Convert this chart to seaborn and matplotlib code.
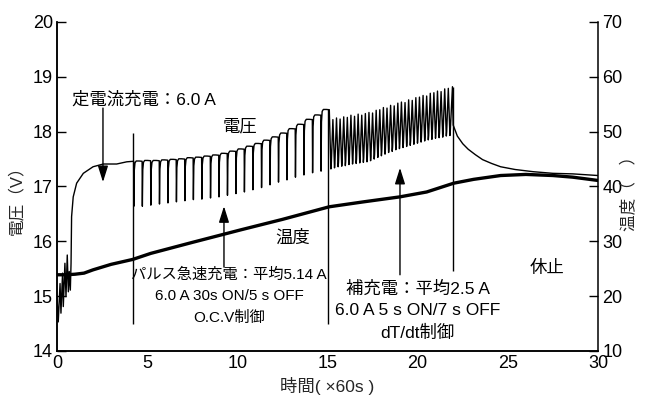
import numpy as np
import pandas as pd
import seaborn as sns
import matplotlib.pyplot as plt

sns.set_style("white")
plt.rcParams["font.family"] = ["Liberation Sans", "Noto Sans CJK JP", "DejaVu Sans"]

# ---- constant-current phase (minutes, volts) ----
cc_time = [0.00, 0.02, 0.07, 0.17, 0.22, 0.31, 0.35, 0.44, 0.50, 0.57, 0.63,
           0.68, 0.74, 0.78, 0.81, 0.90, 1.09, 1.46, 2.00, 2.57, 3.31, 3.87]
cc_volt = [15.00, 14.88, 14.53, 15.23, 14.69, 15.42, 14.81, 15.60, 14.99, 15.75,
           15.08, 15.45, 15.11, 15.60, 16.45, 16.81, 17.06, 17.24, 17.36, 17.41,
           17.41, 17.45]

# ---- rapid pulse charge: drop times, plateau level before drop, trough ----
pulse_time = [4.25, 4.72, 5.19, 5.67, 6.14, 6.61, 7.08, 7.55, 8.02, 8.50, 8.97,
              9.44, 9.91, 10.38, 10.85, 11.33, 11.80, 12.27, 12.74, 13.21, 13.68,
              14.16, 14.63]
pulse_peak = [17.46, 17.46, 17.47, 17.47, 17.48, 17.49, 17.50, 17.52, 17.53,
              17.55, 17.57, 17.60, 17.64, 17.68, 17.73, 17.78, 17.84, 17.90,
              17.97, 18.05, 18.13, 18.22, 18.30]
pulse_trough = [16.64, 16.64, 16.66, 16.68, 16.70, 16.72, 16.74, 16.76, 16.77,
                16.79, 16.81, 16.84, 16.87, 16.90, 16.94, 16.98, 17.03, 17.08,
                17.12, 17.17, 17.21, 17.25, 17.28]

# ---- supplementary charge (5 s ON / 7 s OFF) ----
sup_time = [15.10, 15.30, 15.50, 15.70, 15.90, 16.10, 16.30, 16.50, 16.70,
            16.90, 17.10, 17.30, 17.50, 17.70, 17.90, 18.10, 18.30, 18.50,
            18.70, 18.90, 19.10, 19.30, 19.50, 19.70, 19.90, 20.10, 20.30,
            20.50, 20.70, 20.90, 21.10, 21.30, 21.50, 21.70, 21.90]
sup_peak = [18.40, 18.22, 18.25, 18.23, 18.27, 18.26, 18.30, 18.28, 18.32,
            18.30, 18.33, 18.35, 18.34, 18.39, 18.40, 18.44, 18.43, 18.48,
            18.47, 18.52, 18.54, 18.53, 18.58, 18.57, 18.62, 18.63, 18.66,
            18.65, 18.70, 18.71, 18.74, 18.73, 18.78, 18.79, 18.82]
sup_trough = [17.32, 17.34, 17.36, 17.37, 17.38, 17.40, 17.41, 17.42, 17.43,
              17.44, 17.45, 17.47, 17.50, 17.53, 17.56, 17.59, 17.62, 17.64,
              17.67, 17.69, 17.71, 17.73, 17.75, 17.77, 17.79, 17.81, 17.83,
              17.85, 17.86, 17.88, 17.89, 17.90, 17.92, 17.93, 17.94]

# ---- rest phase ----
rest_time = [21.93, 21.97, 22.2, 22.5, 22.8, 23.2, 23.6, 24.1, 24.6, 25.4,
             26.4, 27.5, 28.6, 30.0]
rest_volt = [18.82, 18.12, 17.92, 17.78, 17.68, 17.58, 17.49, 17.42, 17.36,
             17.31, 17.27, 17.24, 17.23, 17.20]

# ---- cell temperature (minutes, deg C) ----
temp_time = [0.0, 0.5, 1.0, 1.5, 2.0, 3.0, 4.2, 5.2, 7.5, 10.2, 12.5, 15.1,
             17.0, 19.0, 20.5, 22.0, 23.1, 24.6, 26.0, 27.5, 28.6, 30.0]
temp_val = [23.9, 23.9, 24.0, 24.2, 24.8, 25.8, 26.7, 27.8, 29.8, 32.1, 34.0,
            36.3, 37.2, 38.1, 39.0, 40.6, 41.3, 42.0, 42.2, 42.0, 41.7, 41.1]

# phase guide lines
guide_x = [4.2, 15.05, 21.95]
guide_lo = [14.5, 14.5, 15.45]
guide_hi = [17.98, 18.42, 18.82]


def build_trace():
    t, v = list(cc_time), list(cc_volt)
    drops = ([(a, b, c, "pulse") for a, b, c in zip(pulse_time, pulse_peak, pulse_trough)]
             + [(a, b, c, "sup") for a, b, c in zip(sup_time, sup_peak, sup_trough)])
    for (t0, p0, q, kind), (t1, p1, _, _) in zip(drops[:-1], drops[1:]):
        P = t1 - t0
        if kind == "pulse":
            seg = [(0.0, p0), (0.03, q), (0.08, q + 0.8 * (p1 - q)),
                   (0.16, p1 - 0.03), (0.30, p1 + 0.005), (0.65, p1 + 0.005),
                   (1.0, p1)]
        else:
            seg = [(0.0, p0), (0.45, q), (0.55, q + 0.08), (1.0, p1)]
        for f, val in seg[:-1]:
            t.append(t0 + f * P)
            v.append(val)
    t += rest_time
    v += rest_volt
    return pd.DataFrame({"time": t, "volt": v})


volt_df = build_trace()
temp_df = pd.DataFrame({"time": temp_time, "temp": temp_val})

fig, ax = plt.subplots(figsize=(6.49, 3.97), dpi=100)
fig.subplots_adjust(left=0.0878, right=0.9214, bottom=0.1159, top=0.9446)

sns.lineplot(data=volt_df, x="time", y="volt", ax=ax, color="black", lw=1.0,
             sort=False, estimator=None)
ax.vlines(guide_x, guide_lo, guide_hi, color="black", lw=1.0)

ax2 = ax.twinx()
sns.lineplot(data=temp_df, x="time", y="temp", ax=ax2, color="black", lw=2.4,
             sort=False, estimator=None)

ax.set_xlim(0, 30)
ax.set_ylim(14, 20)
ax2.set_ylim(10, 70)
ax.set_xticks([0, 5, 10, 15, 20, 25, 30])
ax.set_yticks([14, 15, 16, 17, 18, 19, 20])
ax2.set_yticks([10, 20, 30, 40, 50, 60, 70])

for a in (ax, ax2):
    a.spines["top"].set_visible(False)
    for s in a.spines.values():
        s.set_linewidth(1.1)
        s.set_color("black")
ax.spines["right"].set_visible(False)
ax.tick_params(direction="in", length=6.5, width=1.0, labelsize=13,
               colors="black", pad=3)
ax2.tick_params(direction="in", length=6.5, width=1.0, labelsize=13,
                colors="black", pad=3)

ax.set_xlabel("時間( ×60s )", fontsize=12.5)
ax.set_ylabel("電圧（V）", fontsize=12)
ax2.set_ylabel("温度（　）", fontsize=12)
ax.xaxis.set_label_coords(0.5, -0.078)
ax.yaxis.set_label_coords(-0.06, 0.47)
ax2.yaxis.set_label_coords(1.043, 0.49)

txt = dict(color="black", ha="center", va="center")
ax.text(4.83, 18.58, "定電流充電：6.0 A", fontsize=12.5, **txt)
ax.text(10.15, 18.09, "電圧", fontsize=12.5, **txt)
ax.text(13.09, 16.06, "温度", fontsize=12.5, **txt)
ax.text(9.54, 15.0, "パルス急速充電：平均5.14 A\n6.0 A 30s ON/5 s OFF\nO.C.V制御",
        fontsize=11, linespacing=1.65, **txt)
ax.text(20.0, 14.73, "補充電：平均2.5 A\n6.0 A 5 s ON/7 s OFF\ndT/dt制御",
        fontsize=12.5, linespacing=1.5, **txt)
ax.text(27.2, 15.51, "休止", fontsize=12.5, **txt)

arrow = dict(arrowstyle="-|>,head_length=0.7,head_width=0.22", color="black",
             lw=1.0, shrinkA=0, shrinkB=0, mutation_scale=14)
ax.annotate("", xy=(2.55, 17.08), xytext=(2.55, 18.43), arrowprops=arrow)
ax.annotate("", xy=(9.26, 16.64), xytext=(9.26, 15.53), arrowprops=arrow)
ax.annotate("", xy=(19.02, 17.34), xytext=(19.02, 15.39), arrowprops=arrow)

fig.savefig("out.png", dpi=100, facecolor="white")
